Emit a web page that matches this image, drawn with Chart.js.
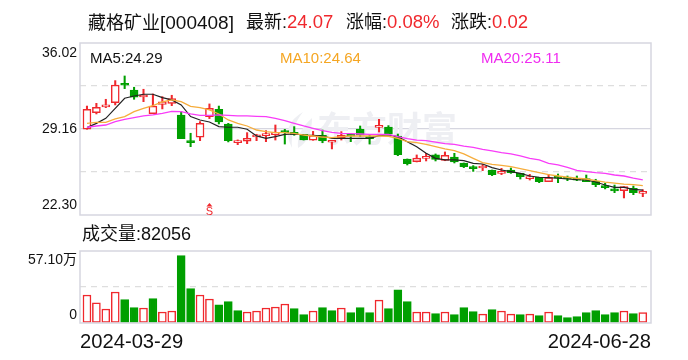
<!DOCTYPE html>
<html><head><meta charset="utf-8">
<script src="https://cdn.jsdelivr.net/npm/chart.js@4"></script>
<style>
html,body{margin:0;padding:0;background:#fff;width:688px;height:360px;overflow:hidden}
#wrap{position:relative;width:688px;height:360px;font-family:"Liberation Sans","Noto Sans CJK SC",sans-serif;color:#111}
canvas{position:absolute;left:0}
.t{position:absolute;white-space:nowrap;line-height:1}
.r{color:#f0282d}
</style></head><body><div id="wrap">
<canvas id="price" width="688" height="232" style="top:0;width:688px;height:232px"></canvas>
<canvas id="vol" width="688" height="128" style="top:232px;width:688px;height:128px"></canvas>
<div class="t" style="left:88px;top:13px;font-size:18px">藏格矿业<span style="font-size:19px">[000408]</span></div>
<div class="t" style="left:246px;top:13px;font-size:18px">最新:</div><div class="t r" style="left:287px;top:13px;font-size:18.5px">24.07</div>
<div class="t" style="left:346px;top:13px;font-size:18px">涨幅:</div><div class="t r" style="left:387px;top:13px;font-size:18.5px">0.08%</div>
<div class="t" style="left:451px;top:13px;font-size:18px">涨跌:</div><div class="t r" style="left:492px;top:13px;font-size:18.5px">0.02</div>
<div class="t" style="left:90px;top:50px;font-size:15px">MA5:24.29</div>
<div class="t" style="left:280px;top:50px;font-size:15px;color:#f5a623">MA10:24.64</div>
<div class="t" style="left:481px;top:50px;font-size:15px;color:#f02cf0">MA20:25.11</div>
<div class="t" style="left:82px;top:225px;font-size:18px">成交量:82056</div>
<div class="t" style="left:80px;top:331px;font-size:20.2px">2024-03-29</div>
<div class="t" style="right:37px;top:331px;font-size:20.2px">2024-06-28</div>
</div>
<script>
const priceTicks=[22.30,25.73,29.16,32.59,36.02];
const priceTickLabels=["22.30","","29.16","","36.02"];
const volTicks=[0,28.55,57.10];
const volTickLabels=["0","","57.10万"];
const sellSignalIndex=[13];
const opens=[29.14,30.47,30.92,31.26,32.75,32.27,31.71,30.39,31.13,31.21,30.28,28.15,28.50,30.15,30.73,29.56,28.07,28.18,28.53,28.63,
28.71,28.97,28.84,28.73,28.26,28.66,28.10,28.42,28.66,29.16,28.44,29.29,29.32,28.60,26.77,26.56,26.82,27.09,26.66,26.93,
26.45,26.13,26.05,25.89,25.62,25.89,25.62,25.20,25.31,24.96,25.28,25.23,25.17,25.20,24.99,24.53,24.38,24.24,24.43,24.03];
const closes=[30.73,30.89,31.08,32.67,32.65,31.69,31.79,30.99,31.32,31.58,28.39,28.07,29.61,30.81,29.72,28.23,28.13,28.42,28.61,28.68,
28.87,28.87,28.73,28.28,28.63,28.23,28.15,28.66,28.58,28.68,28.39,29.35,28.76,27.11,26.40,26.85,26.87,26.74,27.06,26.53,
26.16,26.00,26.10,25.52,25.68,25.68,25.36,25.33,24.96,25.28,25.23,25.17,25.07,24.96,24.72,24.48,24.22,24.56,24.08,24.07];
const highs=[30.99,31.21,31.53,33.02,33.39,32.49,32.33,31.95,31.74,31.85,30.55,28.82,29.75,31.16,30.99,29.61,28.29,28.87,28.74,29.03,
29.48,29.13,29.35,28.73,28.97,29.08,28.15,28.95,28.81,29.40,28.68,29.93,29.43,28.76,26.77,27.09,27.22,27.17,27.33,27.22,
26.45,26.24,26.34,25.89,26.02,26.05,25.62,25.54,25.31,25.54,25.57,25.41,25.41,25.49,25.15,24.83,24.69,24.56,24.61,24.32];
const lows=[29.14,30.36,30.86,31.08,32.38,31.53,31.34,30.39,30.76,31.02,28.39,27.75,28.23,29.99,29.56,28.13,27.91,27.99,28.23,28.15,
28.28,27.96,28.66,28.28,28.26,28.07,27.57,28.28,28.15,28.55,27.96,28.92,28.71,27.03,26.29,26.53,26.61,26.61,26.63,26.45,
26.08,25.78,25.84,25.44,25.52,25.62,25.17,25.09,24.88,24.96,24.88,25.04,25.04,24.96,24.56,24.38,24.08,23.66,23.92,23.76];
const ma5=[29.27,29.61,30.01,30.81,31.61,31.79,31.93,31.93,31.66,31.48,31.08,30.15,29.88,29.72,29.35,29.30,29.30,29.14,28.61,28.42,
28.55,28.73,28.76,28.68,28.66,28.60,28.42,28.42,28.42,28.42,28.42,28.63,28.68,28.55,28.15,27.75,27.22,26.82,26.69,26.69,
26.63,26.42,26.37,26.08,25.89,25.76,25.62,25.41,25.31,25.28,25.23,25.17,25.12,25.09,24.93,24.69,24.51,24.51,24.35,24.29];
const ma10=[29.61,29.69,29.69,29.96,30.15,30.55,30.81,31.02,31.32,31.48,31.34,30.97,30.86,30.68,30.36,29.88,29.61,29.40,29.08,28.95,
28.87,28.87,28.81,28.68,28.60,28.52,28.47,28.55,28.60,28.60,28.60,28.60,28.58,28.42,28.15,28.07,27.94,27.75,27.57,27.43,
27.17,26.82,26.48,26.34,26.26,26.16,26.00,25.84,25.68,25.52,25.41,25.31,25.23,25.17,25.04,24.93,24.85,24.77,24.72,24.64];
const ma20=[29.30,29.40,29.48,29.75,29.93,30.07,30.20,30.28,30.41,30.57,30.55,30.36,30.25,30.25,30.28,30.25,30.20,30.20,30.17,30.14,
30.01,29.82,29.61,29.40,29.21,29.03,28.89,28.81,28.79,28.76,28.73,28.73,28.73,28.55,28.39,28.28,28.23,28.12,27.99,27.94,
27.80,27.70,27.54,27.41,27.27,27.17,27.01,26.82,26.69,26.42,26.29,26.10,25.86,25.76,25.68,25.62,25.49,25.41,25.25,25.11];
const volumes=[22.2,15.9,11.1,24.6,18.5,12.2,11.9,19.3,8.7,9.5,53.4,27.2,22.2,19.0,14.5,16.9,9.8,8.7,9.5,11.9,
12.7,15.1,11.4,6.6,9.5,12.2,9.8,11.9,8.2,12.2,8.2,18.2,11.4,26.4,16.9,8.7,8.7,7.4,8.7,6.6,
12.2,9.0,7.1,10.6,9.5,7.1,6.6,7.1,5.8,8.7,5.8,4.2,5.0,8.2,9.8,6.6,8.2,9.5,7.4,8.2];
const volumeUp=[1,1,1,1,0,0,1,0,1,1,0,0,1,1,0,0,0,1,1,1,1,1,0,0,1,0,0,1,0,0,0,1,0,0,0,1,1,0,1,0,0,0,1,0,1,1,0,1,0,1,0,0,0,0,0,0,0,1,0,1];

const RED='#f0282d',GREEN='#009f00',FRAME='#d6d6e0',GRID='#dedede';
const xRange={min:-0.74,max:59.87,offset:false};
const idx=opens.map((_,i)=>i);
const up=idx.map(i=>closes[i]>=opens[i]);
const lineDs=(data,color,order,w)=>({type:'line',data:idx.map(i=>({x:i,y:data[i]})),borderColor:color,borderWidth:w,pointRadius:0,tension:0,order});
const frame={id:'frame',afterDraw(c){const a=c.chartArea,g=c.ctx;g.save();g.strokeStyle=FRAME;g.lineWidth=1.5;g.strokeRect(a.left,a.top,a.width,a.height);g.restore();}};
function yLabels(values,labels,insetBottom,insetTop){return {id:'ylabels',afterDraw(c){const g=c.ctx,s=c.scales.y;g.save();g.font='14px "Liberation Sans","Noto Sans CJK SC"';g.fillStyle='#111';g.textAlign='right';g.textBaseline='middle';
 values.forEach((v,i)=>{if(!labels[i])return;let y=s.getPixelForValue(v);if(i===0)y-=insetBottom;if(i===values.length-1)y+=insetTop;g.fillText(labels[i],77,y);});g.restore();}};}
const watermark={id:'wm',beforeDatasetsDraw(c){const g=c.ctx;g.save();g.fillStyle='#eeeff3';g.font='bold 35px "Noto Sans CJK SC"';g.textBaseline='middle';g.fillText('东方财富',317,129);
 g.beginPath();g.moveTo(303,112);g.quadraticCurveTo(280,125,292,148);g.quadraticCurveTo(290,128,303,112);g.fill();
 g.beginPath();g.moveTo(312,118);g.quadraticCurveTo(296,132,298,148);g.quadraticCurveTo(312,140,312,118);g.fill();g.restore();}};
const sellMark={id:'sell',afterDraw(c){const g=c.ctx,s=c.scales.x,b=c.chartArea.bottom;g.save();g.fillStyle=RED;g.strokeStyle=RED;sellSignalIndex.forEach(i=>{const x=s.getPixelForValue(i);
 g.beginPath();g.moveTo(x,b-12);g.lineTo(x-3,b-8.5);g.lineTo(x+3,b-8.5);g.closePath();g.fill();
 g.font='11px "Liberation Sans"';g.textAlign='center';g.textBaseline='alphabetic';g.fillText('S',x,b-0.5);});g.restore();}};
const gridCfg=(ticks)=>({
 display:true,position:'left',
 afterBuildTicks(s){s.ticks=ticks.map(v=>({value:v}));},
 ticks:{display:false},border:{display:false,dash:ctx=>(ctx.index===(ticks.length-1)/2&&ticks.length===5)?[]:[6,5]},
 grid:{drawTicks:false,lineWidth:1.3,color:ctx=>(ctx.index===0||ctx.index===ticks.length-1)?'rgba(0,0,0,0)':(ticks.length===5&&ctx.index===2?FRAME:GRID)}
});
new Chart(document.getElementById('price'),{
 type:'bar',
 data:{datasets:[
  lineDs(ma20,'#f83cf8',1,1.3),lineDs(ma10,'#f6ad3c',2,1.3),lineDs(ma5,'#222222',3,1.2),
  {data:idx.map(i=>({x:i,y:[opens[i],closes[i]]})),grouped:false,barThickness:8,minBarLength:2,borderSkipped:false,borderWidth:1.5,
   backgroundColor:idx.map(i=>up[i]?'#ffffff':GREEN),borderColor:idx.map(i=>up[i]?RED:GREEN),order:4},
  {data:idx.map(i=>({x:i,y:[lows[i],highs[i]]})),grouped:false,barThickness:1.4,borderSkipped:false,borderWidth:0,
   backgroundColor:idx.map(i=>up[i]?RED:GREEN),order:5}
 ]},
 options:{responsive:false,animation:false,events:[],layout:{padding:{left:80,top:43,right:37,bottom:17}},
  plugins:{legend:{display:false},tooltip:{enabled:false}},
  scales:{x:{type:'linear',display:false,...xRange},y:{min:22.30,max:36.02,...gridCfg(priceTicks)}}},
 plugins:[watermark,frame,yLabels(priceTicks,priceTickLabels,9.5,10),sellMark]
});
new Chart(document.getElementById('vol'),{
 type:'bar',
 data:{datasets:[{data:idx.map(i=>({x:i,y:volumes[i]})),barThickness:8,borderSkipped:false,borderWidth:1.5,
   backgroundColor:idx.map(i=>volumeUp[i]?'#ffffff':GREEN),borderColor:idx.map(i=>volumeUp[i]?RED:GREEN)}]},
 options:{responsive:false,animation:false,events:[],layout:{padding:{left:80,top:19,right:37,bottom:37}},
  plugins:{legend:{display:false},tooltip:{enabled:false}},
  scales:{x:{type:'linear',display:false,...xRange},y:{min:0,max:57.10,...gridCfg(volTicks)}}},
 plugins:[frame,yLabels(volTicks,volTickLabels,7.5,9.5)]
});
</script></body></html>
